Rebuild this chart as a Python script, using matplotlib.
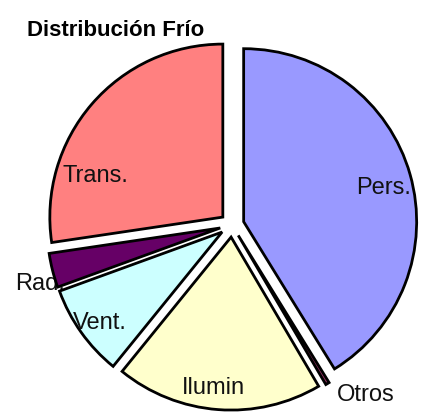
import numpy as np
import matplotlib
matplotlib.use("Agg")
import matplotlib.pyplot as plt

plt.rcParams['font.family'] = ['Liberation Sans', 'DejaVu Sans']

# Data (percent of cooling load), order as drawn clockwise from 12 o'clock
labels = ['Pers.', 'Otros', 'Ilumin', 'Vent.', 'Rad.', 'Trans.']
values = [41.2, 0.35, 19.3, 8.6, 3.2, 27.35]
colors = ['#9999FF', '#993366', '#FFFFCC', '#CCFFFF', '#660066', '#FF8080']

# label placement (radius as fraction of pie radius, angle nudge in degrees)
label_r = [0.90, 1.25, 0.95, 0.95, 1.16, 0.84]
label_dang = [-2, 7, -2, 1, 3, 21]

W, H = 429, 416
R_PX = 173.0
cx, cy = 232, 225  # pie centre in pixels from top-left

fig = plt.figure(figsize=(W / 100, H / 100), dpi=100)
ax = fig.add_axes([0, 0, 1, 1])

wedges, _ = ax.pie(values, colors=colors, startangle=90, counterclock=False,
                   explode=[0.07] * len(values),
                   wedgeprops=dict(edgecolor='black', linewidth=2.0, zorder=2))

for w, lab, r, da in zip(wedges, labels, label_r, label_dang):
    ang = np.deg2rad((w.theta1 + w.theta2) / 2 + da)
    ax.text(r * np.cos(ang), r * np.sin(ang), lab, ha='center', va='center',
            fontsize=17, color='#111111', zorder=1 if lab == 'Rad.' else 3)

ax.set_xlim(-cx / R_PX, (W - cx) / R_PX)
ax.set_ylim(-(H - cy) / R_PX, cy / R_PX)
ax.set_aspect('equal')
ax.axis('off')

fig.text(27 / W, 1 - 36 / H, 'Distribución Frío', fontsize=16,
         fontweight='bold', ha='left', va='baseline')

fig.savefig('out.png', dpi=100)
